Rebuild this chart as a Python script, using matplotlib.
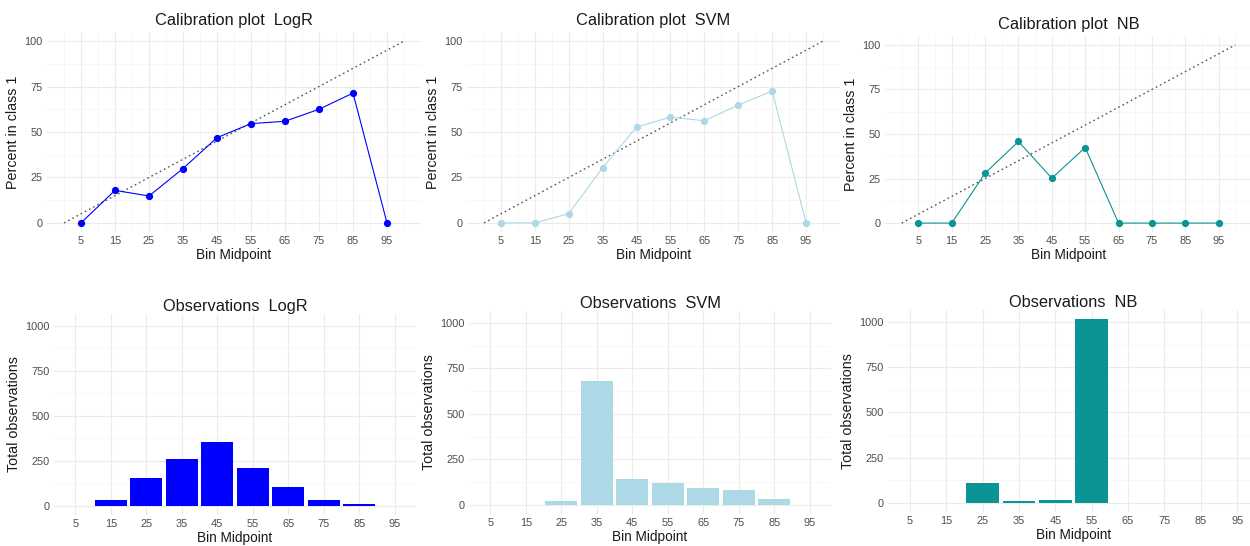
import numpy as np
import matplotlib
matplotlib.use('Agg')
import matplotlib.pyplot as plt

plt.rcParams['font.family'] = ['Liberation Sans', 'DejaVu Sans']

bins = [5, 15, 25, 35, 45, 55, 65, 75, 85, 95]
bin_labels = [str(b) for b in bins]

models = ['LogR', 'SVM', 'NB']
colors = ['#0000FF', '#ADD8E6', '#0A9494']

# percent in class 1 per bin
calib_logr = [0, 17.9, 14.8, 29.9, 46.9, 54.6, 55.9, 62.5, 71.4, 0]
calib_svm = [0, 0, 5.1, 30.4, 52.7, 58.2, 56.2, 64.8, 72.5, 0]
calib_nb = [0, 0, 28.0, 45.8, 25.2, 42.4, 0, 0, 0, 0]

# total observations per bin
obs_logr = [0, 35, 154, 260, 352, 210, 106, 35, 9, 0]
obs_svm = [0, 0, 22, 683, 141, 119, 92, 79, 31, 0]
obs_nb = [0, 0, 107, 11, 15, 1015, 0, 0, 0, 0]

calib = [calib_logr, calib_svm, calib_nb]
obs = [obs_logr, obs_svm, obs_nb]

W, H = 1250, 546
fig = plt.figure(figsize=(W / 100, H / 100), dpi=100)

# panel boxes in pixels: left, right, top, bottom
top_boxes = [(47, 421, 32, 232), (467, 840, 32, 232), (885, 1252, 36, 232)]
bot_boxes = [(54, 416, 314, 515), (469, 831, 311, 514), (888, 1259, 310, 512)]

major_c = '#EBEBEB'
minor_c = '#F4F4F4'
tick_c = '#4D4D4D'


def make_ax(box):
    l, r, t, b = box
    ax = fig.add_axes([l / W, 1 - b / H, (r - l) / W, (b - t) / H])
    for s in ax.spines.values():
        s.set_visible(False)
    ax.tick_params(length=0, labelsize=7.9, labelcolor=tick_c, pad=3.2)
    ax.set_axisbelow(True)
    return ax


for i, m in enumerate(models):
    # calibration plot
    ax = make_ax(top_boxes[i])
    for v in np.arange(0, 101, 10):
        ax.axvline(v, color=minor_c, lw=0.5, zorder=0)
    for v in bins:
        ax.axvline(v, color=major_c, lw=0.8, zorder=0)
    for v in np.arange(12.5, 100, 25):
        ax.axhline(v, color=minor_c, lw=0.5, zorder=0)
    for v in [0, 25, 50, 75, 100]:
        ax.axhline(v, color=major_c, lw=0.8, zorder=0)
    ax.plot([0, 100], [0, 100], color='#555555', lw=1.0, ls=(0, (1.2, 2.2)))
    ax.plot(bins, calib[i], color=colors[i], lw=0.8)
    ax.plot(bins, calib[i], 'o', color=colors[i], ms=4.2)
    ax.set_xlim(-5, 105)
    ax.set_ylim(-5, 105)
    ax.set_xticks(bins)
    ax.set_yticks([0, 25, 50, 75, 100])
    ax.set_title('Calibration plot  ' + m, fontsize=11.8, color='#1A1A1A', pad=5)
    ax.set_xlabel('Bin Midpoint', fontsize=9.8, color='#1A1A1A', labelpad=1)
    ax.set_ylabel('Percent in class 1', fontsize=10.3, color='#1A1A1A', labelpad=3)

    # observations plot
    ax = make_ax(bot_boxes[i])
    pos = np.arange(1, len(bins) + 1)
    for p in pos:
        ax.axvline(p, color=major_c, lw=0.8, zorder=0)
    for v in [125, 375, 625, 875]:
        ax.axhline(v, color=minor_c, lw=0.5, zorder=0)
    for v in [0, 250, 500, 750, 1000]:
        ax.axhline(v, color=major_c, lw=0.8, zorder=0)
    ax.bar(pos, obs[i], width=0.9, color=colors[i], edgecolor='none')
    ax.set_xlim(0.4, 10.6)
    ax.set_ylim(-51, 1066)
    ax.set_xticks(pos)
    ax.set_xticklabels(bin_labels)
    ax.set_yticks([0, 250, 500, 750, 1000])
    ax.set_title('Observations  ' + m, fontsize=11.8, color='#1A1A1A', pad=2)
    ax.set_xlabel('Bin Midpoint', fontsize=9.8, color='#1A1A1A', labelpad=1)
    ax.set_ylabel('Total observations', fontsize=10.3, color='#1A1A1A', labelpad=3)

fig.savefig('out.png', dpi=100)
